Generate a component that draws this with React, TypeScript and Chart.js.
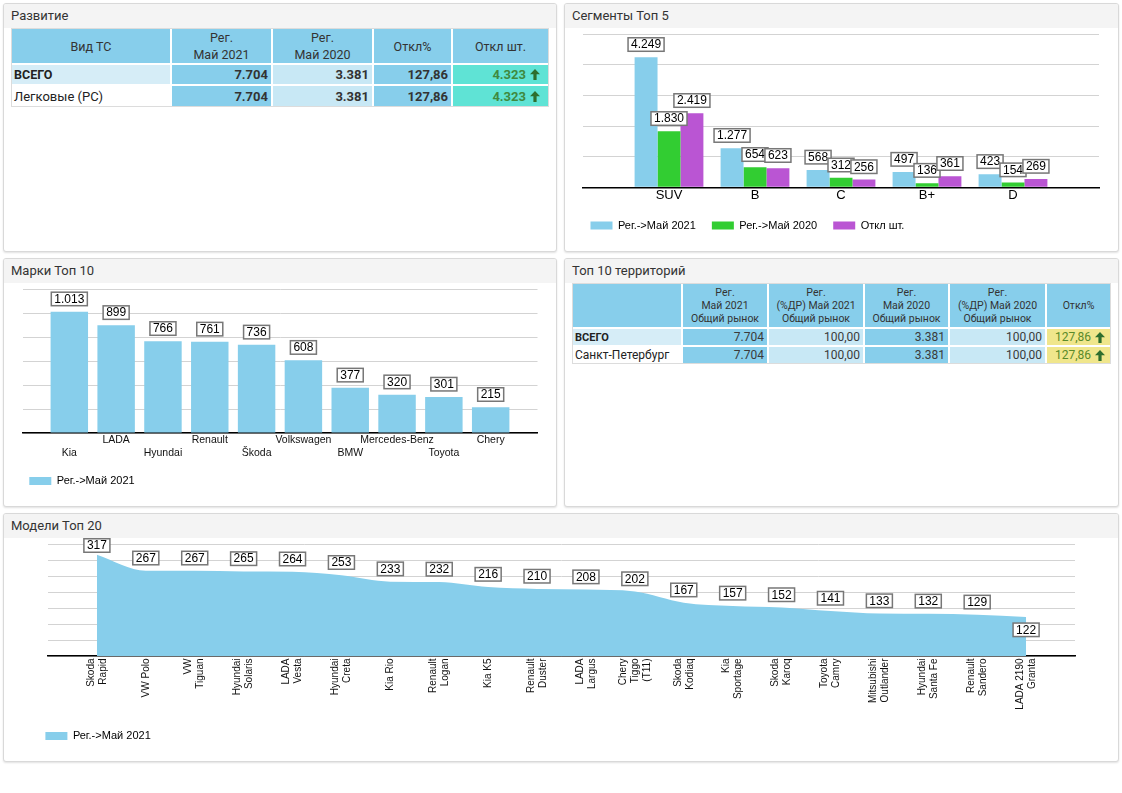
import React, { useEffect, useRef } from 'react';
import { Chart, registerables } from 'chart.js';

Chart.register(...registerables);

// ---------- data ----------
const segmentCategories = ['SUV', 'B', 'C', 'B+', 'D'];
const segmentReg2021 = [4249, 1277, 568, 497, 423];
const segmentReg2020 = [1830, 654, 312, 136, 154];
const segmentDiff = [2419, 623, 256, 361, 269];
const segmentSeriesNames = ['Рег.->Май 2021', 'Рег.->Май 2020', 'Откл шт.'];
const segmentAxisMax = 5000;
const segmentAxisStep = 1000;

const brandCategories = ['Kia', 'LADA', 'Hyundai', 'Renault', 'Škoda', 'Volkswagen', 'BMW', 'Mercedes-Benz', 'Toyota', 'Chery'];
const brandReg2021 = [1013, 899, 766, 761, 736, 608, 377, 320, 301, 215];
const brandAxisMax = 1200;
const brandAxisStep = 200;

const modelCategories = [
  ['Skoda', 'Rapid'], ['VW Polo'], ['VW', 'Tiguan'], ['Hyundai', 'Solaris'], ['LADA', 'Vesta'],
  ['Hyundai', 'Creta'], ['Kia Rio'], ['Renault', 'Logan'], ['Kia K5'], ['Renault', 'Duster'],
  ['LADA', 'Largus'], ['Chery', 'Tiggo', '(T11)'], ['Skoda', 'Kodiaq'], ['Kia', 'Sportage'], ['Skoda', 'Karoq'],
  ['Toyota', 'Camry'], ['Mitsubishi', 'Outlander'], ['Hyundai', 'Santa Fe'], ['Renault', 'Sandero'], ['LADA 2190', 'Granta'],
];
const modelReg2021 = [317, 267, 267, 265, 264, 253, 233, 232, 216, 210, 208, 202, 167, 157, 152, 141, 133, 132, 129, 122];
const modelSeriesName = 'Рег.->Май 2021';
const modelAxisMax = 350;
const modelAxisStep = 50;

const devHeaders = [['Вид ТС'], ['Рег.', 'Май 2021'], ['Рег.', 'Май 2020'], ['Откл%'], ['Откл шт.']];
const devRows = ['ВСЕГО', 'Легковые (PC)'];
const devReg2021 = [7704, 7704];
const devReg2020 = [3381, 3381];
const devDiffPct = ['127,86', '127,86'];
const devDiffAbs = [4323, 4323];

const terrHeaders = [[''], ['Рег.', 'Май 2021', 'Общий рынок'], ['Рег.', '(%ДР) Май 2021', 'Общий рынок'], ['Рег.', 'Май 2020', 'Общий рынок'], ['Рег.', '(%ДР) Май 2020', 'Общий рынок'], ['Откл%']];
const terrRows = ['ВСЕГО', 'Санкт-Петербург'];
const terrReg2021 = [7704, 7704];
const terrShare2021 = ['100,00', '100,00'];
const terrReg2020 = [3381, 3381];
const terrShare2020 = ['100,00', '100,00'];
const terrDiffPct = ['127,86', '127,86'];

// ---------- helpers ----------
const FONT = "'Liberation Sans', Arial, sans-serif";
const UI_FONT = "Roboto, 'Noto Sans', sans-serif";
const SKY = '#87CEEB';
const LIGHT = '#c8e8f5';
const ROWLIGHT = '#d6edf7';

const fmt = (v: number) => String(v).replace(/\B(?=(\d{3})+(?!\d))/g, '.');
const pad = (arr: any[]) => [null, ...arr, null];

function makeValueBoxes(lastBelow: boolean) {
  return {
    id: 'valueBoxes',
    afterDatasetsDraw(chart: any) {
      const ctx = chart.ctx;
      ctx.save();
      ctx.font = `12px ${FONT}`;
      ctx.textAlign = 'center';
      ctx.textBaseline = 'middle';
      chart.data.datasets.forEach((ds: any, di: number) => {
        const meta = chart.getDatasetMeta(di);
        let last = -1;
        ds.data.forEach((v: any, i: number) => { if (v != null) last = i; });
        meta.data.forEach((el: any, i: number) => {
          const v = ds.data[i];
          if (v == null) return;
          const text = fmt(v);
          const w = ctx.measureText(text).width + 6;
          const h = 13.5;
          let top = lastBelow && i === last ? el.y + 6 : el.y - 6 - h;
          top = Math.max(top, 0.75);
          const left = el.x - w / 2;
          ctx.fillStyle = '#ffffff';
          ctx.fillRect(left, top, w, h);
          ctx.strokeStyle = '#777777';
          ctx.lineWidth = 1.5;
          ctx.strokeRect(left, top, w, h);
          ctx.fillStyle = '#000000';
          ctx.fillText(text, el.x, top + h / 2 + 0.5);
        });
      });
      ctx.restore();
    },
  };
}

const rotatedModelLabels = {
  id: 'rotatedModelLabels',
  afterDraw(chart: any) {
    const xs = chart.scales.x;
    const ctx = chart.ctx;
    ctx.save();
    ctx.font = `10px ${FONT}`;
    ctx.fillStyle = '#111111';
    ctx.textAlign = 'right';
    ctx.textBaseline = 'middle';
    modelCategories.forEach((lines, i) => {
      const x = xs.getPixelForValue(i + 1);
      const n = lines.length;
      lines.forEach((line, j) => {
        ctx.save();
        ctx.translate(x + (j - (n - 1) / 2) * 12, chart.chartArea.bottom + 2.5);
        ctx.rotate(-Math.PI / 2);
        ctx.fillText(line, 0, 0);
        ctx.restore();
      });
    });
    ctx.restore();
  },
};

const legendOpts = {
  position: 'bottom',
  align: 'start',
  labels: { boxWidth: 22, boxHeight: 8, padding: 16, color: '#000', font: { family: FONT, size: 11 } },
};

function segmentsConfig(): any {
  return {
    type: 'bar',
    data: {
      labels: ['', ...segmentCategories, ''],
      datasets: [
        { label: segmentSeriesNames[0], data: pad(segmentReg2021), backgroundColor: SKY },
        { label: segmentSeriesNames[1], data: pad(segmentReg2020), backgroundColor: '#32CD32' },
        { label: segmentSeriesNames[2], data: pad(segmentDiff), backgroundColor: '#BA55D3' },
      ],
    },
    options: {
      responsive: false,
      animation: false,
      events: [],
      layout: { padding: { left: 10.5, right: 20, top: 6.3, bottom: 11 } },
      datasets: { bar: { barPercentage: 1, categoryPercentage: 0.8 } },
      plugins: { legend: legendOpts, tooltip: { enabled: false } },
      scales: {
        x: {
          offset: false,
          grid: { display: false, drawTicks: false },
          border: { display: true, color: '#000', width: 1.5 },
          ticks: { autoSkip: false, maxRotation: 0, minRotation: 0, padding: 0, color: '#000', font: { family: FONT, size: 13 } },
          afterFit: (s: any) => { s.height = 16.7; },
        },
        y: {
          min: 0, max: segmentAxisMax,
          ticks: { display: false, stepSize: segmentAxisStep },
          grid: { color: '#d3d3d3', drawTicks: false },
          border: { display: false },
          afterFit: (s: any) => { s.width = 8.5; },
        },
      },
    },
    plugins: [makeValueBoxes(false)],
  };
}

function brandsConfig(): any {
  return {
    type: 'bar',
    data: {
      labels: ['', ...brandCategories.map((b, i) => (i % 2 === 0 ? ['', b] : b)), ''],
      datasets: [{ label: segmentSeriesNames[0], data: pad(brandReg2021), backgroundColor: SKY }],
    },
    options: {
      responsive: false,
      animation: false,
      events: [],
      layout: { padding: { left: 10.3, right: 19.5, top: 6.3, bottom: 10.5 } },
      datasets: { bar: { barPercentage: 0.8, categoryPercentage: 1 } },
      plugins: { legend: legendOpts, tooltip: { enabled: false } },
      scales: {
        x: {
          offset: false,
          grid: { display: false, drawTicks: false },
          border: { display: true, color: '#000', width: 1.5 },
          ticks: { autoSkip: false, maxRotation: 0, minRotation: 0, padding: 0, color: '#111', font: { family: FONT, size: 10.5, lineHeight: '13.5px' } },
          afterFit: (s: any) => { s.height = 26.5; },
        },
        y: {
          min: 0, max: brandAxisMax,
          ticks: { display: false, stepSize: brandAxisStep },
          grid: { color: '#d3d3d3', drawTicks: false },
          border: { display: false },
          afterFit: (s: any) => { s.width = 9.2; },
        },
      },
    },
    plugins: [makeValueBoxes(false)],
  };
}

function modelsConfig(): any {
  return {
    type: 'line',
    data: {
      labels: ['', ...modelCategories.map((l) => l.join(' ')), ''],
      datasets: [{
        label: modelSeriesName,
        data: pad(modelReg2021),
        fill: 'origin',
        backgroundColor: SKY,
        borderColor: 'rgba(0,0,0,0)',
        borderWidth: 0,
        pointRadius: 0,
        pointHoverRadius: 0,
        cubicInterpolationMode: 'monotone',
      }],
    },
    options: {
      responsive: false,
      animation: false,
      events: [],
      layout: { padding: { left: 26.4, right: 44, top: 6.3, bottom: 10.5 } },
      plugins: { legend: legendOpts, tooltip: { enabled: false } },
      scales: {
        x: {
          offset: false,
          grid: { display: false, drawTicks: false },
          border: { display: true, color: '#000', width: 1.5 },
          ticks: { display: false },
          afterFit: (s: any) => { s.height = 58.5; },
        },
        y: {
          min: 0, max: modelAxisMax,
          ticks: { display: false, stepSize: modelAxisStep },
          grid: { color: '#d3d3d3', drawTicks: false },
          border: { display: false },
          afterFit: (s: any) => { s.width = 18.6; },
        },
      },
    },
    plugins: [makeValueBoxes(true), rotatedModelLabels],
  };
}

// ---------- components ----------
function ChartCanvas({ left, top, width, height, build }: { left: number; top: number; width: number; height: number; build: () => any }) {
  const ref = useRef<HTMLCanvasElement>(null);
  useEffect(() => {
    const chart = new Chart(ref.current as HTMLCanvasElement, build());
    return () => chart.destroy();
  }, []);
  return <canvas ref={ref} width={width} height={height} style={{ position: 'absolute', left, top, width, height }} />;
}

function Panel({ left, top, width, height, title }: { left: number; top: number; width: number; height: number; title: string }) {
  return (
    <div style={{
      position: 'absolute', left, top, width, height, boxSizing: 'border-box',
      border: '1px solid #d9d9d9', borderRadius: 3, background: '#fff',
      boxShadow: '0 1px 2px rgba(0,0,0,0.12)', overflow: 'hidden',
    }}>
      <div style={{
        height: 24, lineHeight: '24px', background: '#f4f4f4', paddingLeft: 7,
        fontFamily: UI_FONT, fontSize: 13, color: '#333',
      }}>{title}</div>
    </div>
  );
}

function UpArrow({ color }: { color: string }) {
  return (
    <svg width="10" height="11" viewBox="0 0 10 11" style={{ marginLeft: 4, display: 'block' }}>
      <path d="M5 0 L10 5.2 L6.6 5.2 L6.6 11 L3.4 11 L3.4 5.2 L0 5.2 Z" fill={color} />
    </svg>
  );
}

const cellBase: React.CSSProperties = { display: 'flex', alignItems: 'center', boxSizing: 'border-box', overflow: 'hidden', whiteSpace: 'nowrap' };

function DevTable() {
  const cols = '158px 99px 99px 77px 95px';
  const header = (lines: string[], i: number) => (
    <div key={'h' + i} style={{ ...cellBase, background: SKY, flexDirection: 'column', justifyContent: 'center', fontSize: 12.5, lineHeight: '17px', color: '#333' }}>
      {lines.map((l, j) => <div key={j}>{l}</div>)}
    </div>
  );
  const num = (content: React.ReactNode, bg: string, key: string, extra: React.CSSProperties = {}) => (
    <div key={key} style={{ ...cellBase, background: bg, justifyContent: 'flex-end', paddingRight: 3, fontWeight: 700, fontSize: 13, color: '#333', ...extra }}>{content}</div>
  );
  return (
    <div style={{ position: 'absolute', left: 11, top: 28, width: 538, boxSizing: 'border-box', border: '1px solid #dcdcdc', background: '#fff', fontFamily: UI_FONT }}>
      <div style={{ display: 'grid', gridTemplateColumns: cols, gridTemplateRows: '34px 19px 20px', gap: 2 }}>
        {devHeaders.map(header)}
        {devRows.map((name, r) => [
          <div key={'n' + r} style={{ ...cellBase, background: r === 0 ? ROWLIGHT : '#fff', paddingLeft: 2, fontWeight: r === 0 ? 700 : 400, fontSize: r === 0 ? 12.5 : 13, color: '#222' }}>{name}</div>,
          num(fmt(devReg2021[r]), SKY, 'a' + r),
          num(fmt(devReg2020[r]), LIGHT, 'b' + r),
          num(devDiffPct[r], SKY, 'c' + r),
          num(<><span>{fmt(devDiffAbs[r])}</span><UpArrow color="#2e6e2e" /></>, '#5fe3d5', 'd' + r, { color: '#3f8a3f', paddingRight: 8 }),
        ])}
      </div>
    </div>
  );
}

function TerrTable() {
  const cols = '108px 84px 94px 83px 95px 63px';
  const header = (lines: string[], i: number) => (
    <div key={'h' + i} style={{ ...cellBase, background: SKY, flexDirection: 'column', justifyContent: 'center', fontSize: 10.5, lineHeight: '13px', color: '#333' }}>
      {lines.map((l, j) => <div key={j}>{l}</div>)}
    </div>
  );
  const num = (content: React.ReactNode, bg: string, key: string, extra: React.CSSProperties = {}) => (
    <div key={key} style={{ ...cellBase, background: bg, justifyContent: 'flex-end', paddingRight: 3, fontSize: 12, color: '#3a3a3a', ...extra }}>{content}</div>
  );
  return (
    <div style={{ position: 'absolute', left: 572, top: 283, width: 539, boxSizing: 'border-box', border: '1px solid #dcdcdc', background: '#fff', fontFamily: UI_FONT }}>
      <div style={{ display: 'grid', gridTemplateColumns: cols, gridTemplateRows: '43px 16px 16px', gap: 2 }}>
        {terrHeaders.map(header)}
        {terrRows.map((name, r) => [
          <div key={'n' + r} style={{ ...cellBase, background: r === 0 ? ROWLIGHT : '#fff', paddingLeft: 2, fontWeight: r === 0 ? 700 : 400, fontSize: r === 0 ? 11 : 12, color: '#222' }}>{name}</div>,
          num(fmt(terrReg2021[r]), SKY, 'a' + r),
          num(terrShare2021[r], LIGHT, 'b' + r),
          num(fmt(terrReg2020[r]), SKY, 'c' + r),
          num(terrShare2020[r], LIGHT, 'd' + r),
          num(<><span>{terrDiffPct[r]}</span><UpArrow color="#2e6e2e" /></>, '#f0e68c', 'e' + r, { color: '#5a8a2a', paddingRight: 5 }),
        ])}
      </div>
    </div>
  );
}

export default function App() {
  return (
    <div style={{ position: 'absolute', left: 0, top: 0, width: 1122, height: 793, background: '#fff', overflow: 'hidden' }}>
      <Panel left={3} top={3} width={554} height={249} title="Развитие" />
      <Panel left={564} top={3} width={555} height={249} title="Сегменты Топ 5" />
      <Panel left={3} top={258} width={554} height={249} title="Марки Топ 10" />
      <Panel left={564} top={258} width={555} height={249} title="Топ 10 территорий" />
      <Panel left={3} top={513} width={1116} height={249} title="Модели Топ 20" />
      <DevTable />
      <TerrTable />
      <ChartCanvas left={564} top={28} width={555} height={224} build={segmentsConfig} />
      <ChartCanvas left={3} top={283} width={554} height={224} build={brandsConfig} />
      <ChartCanvas left={3} top={538} width={1116} height={224} build={modelsConfig} />
    </div>
  );
}
